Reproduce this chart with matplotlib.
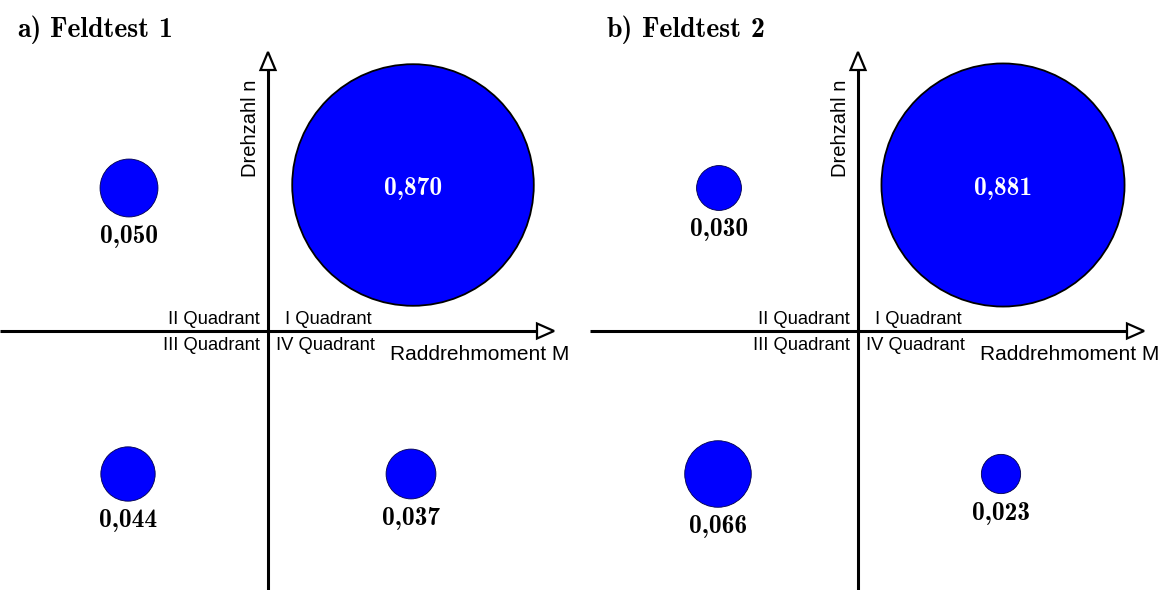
import os
import numpy as np
import matplotlib
matplotlib.use('Agg')
import matplotlib.pyplot as plt
from matplotlib.patches import Circle, Polygon
from matplotlib.font_manager import FontProperties

# ---------------- data ----------------
panel_titles = ['a) Feldtest 1', 'b) Feldtest 2']
quadrant_names = ['I', 'II', 'III', 'IV']
values_test1 = [0.870, 0.050, 0.044, 0.037]
values_test2 = [0.881, 0.030, 0.066, 0.023]
quadrant_labels = ['I Quadrant', 'II Quadrant', 'III Quadrant', 'IV Quadrant']
x_label = 'Raddrehmoment M'
y_label = 'Drehzahl n'

# ---------------- layout (pixels) ----------------
W, H = 1164, 590
fig = plt.figure(figsize=(W / 100, H / 100), dpi=100)
ax = fig.add_axes([0, 0, 1, 1])
ax.set_xlim(0, W)
ax.set_ylim(H, 0)
ax.set_axis_off()

cmb_path = os.path.join(matplotlib.get_data_path(), 'fonts', 'ttf', 'cmb10.ttf')
serif_bold = FontProperties(fname=cmb_path, size=18.3)
title_font = FontProperties(fname=cmb_path, size=20)

panel_offsets = [0, 590]
origin = (268, 331)
# quadrant centre offsets relative to origin (x right, y down)
quad_offsets = {'I': (145, -146), 'II': (-139, -143),
                'III': (-140, 143), 'IV': (143, 143)}
k = 129.5          # radius (px) per sqrt(value) -> area proportional to value
blue = '#0000ff'
lw_axis = 2.2
sans = 'Liberation Sans'


def fmt(v):
    return f'{v:.3f}'.replace('.', ',')


def draw_words(x, y, text, fp, gap=9):
    """draw words one after another (TeX fonts lack a space glyph)"""
    r = fig.canvas.get_renderer()
    for w in text.split(' '):
        t = ax.text(x, y, w, fontproperties=fp, ha='left', va='baseline')
        bb = t.get_window_extent(renderer=r)
        x += bb.width + gap


for p, (dx, title, vals) in enumerate(zip(panel_offsets, panel_titles,
                                          [values_test1, values_test2])):
    ox, oy = origin[0] + dx, origin[1]

    # title
    draw_words(17 + dx, 37, title, title_font)

    # axes lines
    ax.plot([dx, 537 + dx], [oy, oy], color='black', lw=lw_axis,
            solid_capstyle='butt', zorder=3)
    ax.plot([ox, ox], [H, 70], color='black', lw=lw_axis,
            solid_capstyle='butt', zorder=3)
    # open arrow heads
    ax.add_patch(Polygon([[ox - 7.5, 70], [ox + 7.5, 70], [ox, 52]],
                         closed=True, facecolor='white', edgecolor='black',
                         lw=1.6, zorder=4))
    ax.add_patch(Polygon([[537 + dx, oy - 7.5], [537 + dx, oy + 7.5],
                          [554 + dx, oy]],
                         closed=True, facecolor='white', edgecolor='black',
                         lw=1.6, zorder=4))

    # axis labels
    ax.text(ox - 18, 80, y_label, rotation=90, ha='center', va='top',
            fontsize=14.5, family=sans)
    ax.text(ox + 122, oy + 24, x_label, ha='left', va='center',
            fontsize=15, family=sans)

    # quadrant labels
    fq = 13.2
    ax.text(ox + 17, oy - 12, quadrant_labels[0], ha='left', va='center',
            fontsize=fq, family=sans)
    ax.text(ox - 8, oy - 12, quadrant_labels[1], ha='right', va='center',
            fontsize=fq, family=sans)
    ax.text(ox - 8, oy + 14, quadrant_labels[2], ha='right', va='center',
            fontsize=fq, family=sans)
    ax.text(ox + 8, oy + 14, quadrant_labels[3], ha='left', va='center',
            fontsize=fq, family=sans)

    # bubbles
    for q, v in zip(quadrant_names, vals):
        cx = ox + quad_offsets[q][0]
        cy = oy + quad_offsets[q][1]
        r = k * np.sqrt(v)
        big = (q == 'I')
        ax.add_patch(Circle((cx, cy), r, facecolor=blue,
                            edgecolor='black' if big else '#00004a',
                            lw=1.3 if big else 0.6, zorder=2))
        if big:
            ax.text(cx, cy + 3, fmt(v), color='white', fontproperties=serif_bold,
                    ha='center', va='center', zorder=5)
        else:
            ax.text(cx, cy + r + 8, fmt(v), color='black',
                    fontproperties=serif_bold,
                    ha='center', va='top', zorder=5)

fig.savefig('out.png', dpi=100)
